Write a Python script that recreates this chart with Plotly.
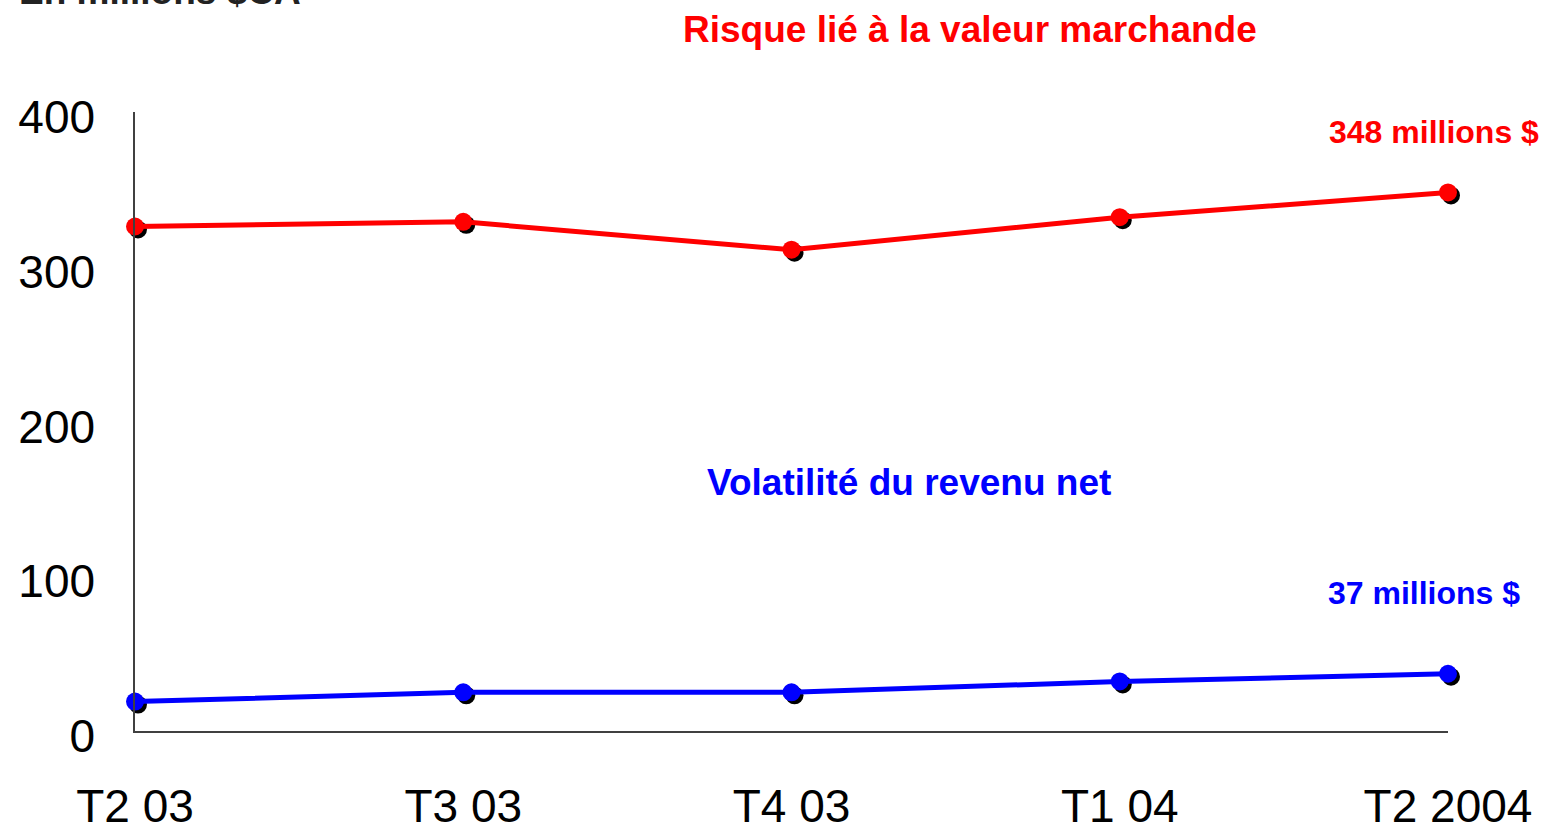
import plotly.graph_objects as go

categories = ["T2 03", "T3 03", "T4 03", "T1 04", "T2 2004"]
risque_valeur = [326, 329, 311, 332, 348]
volatilite_revenu = [19, 25, 25, 32, 37]
y_ticks = [0, 100, 200, 300, 400]

FONT = "Liberation Sans, Arial, sans-serif"
RED = "#ff0000"
BLUE = "#0000ff"

W, H = 1542, 830
SH = 3  # shadow offset in px
L, R, T, B = 135, 94 - SH, 112, 99 - SH
PW, PH = W - L - R, H - T - B
ddx = SH / PW
ddy = SH / PH

xi = list(range(len(categories)))
xr = [0, len(categories) - 1]
yr = [0, 400]

fig = go.Figure()
# shadows (separate subplot shifted right/down by SH px)
for vals in (risque_valeur, volatilite_revenu):
    fig.add_trace(go.Scatter(x=xi, y=vals, mode="markers", xaxis="x", yaxis="y",
                             marker=dict(size=18, color="black"), cliponaxis=False,
                             hoverinfo="skip", showlegend=False))
# real series
fig.add_trace(go.Scatter(x=xi, y=risque_valeur, mode="lines+markers", xaxis="x2", yaxis="y2",
                         line=dict(color=RED, width=5), marker=dict(size=18, color=RED),
                         cliponaxis=False, showlegend=False, name="Risque lié à la valeur marchande"))
fig.add_trace(go.Scatter(x=xi, y=volatilite_revenu, mode="lines+markers", xaxis="x2", yaxis="y2",
                         line=dict(color=BLUE, width=5), marker=dict(size=18, color=BLUE),
                         cliponaxis=False, showlegend=False, name="Volatilité du revenu net"))

def px(xp):
    return (xp - L) / PW

def py(yp):
    return (H - B - yp) / PH

ann = [
    dict(text="<b>En millions $CA</b>", x=px(17), y=py(-8), xanchor="left", yanchor="middle",
         font=dict(size=37, color="#222222")),
    dict(text="<b>Risque lié à la valeur marchande</b>", x=px(970), y=py(30), xanchor="center",
         yanchor="middle", font=dict(size=37, color=RED)),
    dict(text="<b>Volatilité du revenu net</b>", x=px(909), y=py(482), xanchor="center",
         yanchor="middle", font=dict(size=37, color=BLUE)),
    dict(text="<b>348 millions $</b>", x=px(1434), y=py(132), xanchor="center",
         yanchor="middle", font=dict(size=32, color=RED)),
    dict(text="<b>37 millions $</b>", x=px(1424), y=py(593), xanchor="center",
         yanchor="middle", font=dict(size=32, color=BLUE)),
]
for a in ann:
    a.update(xref="paper", yref="paper", showarrow=False)
    a["font"]["family"] = FONT

fig.update_layout(
    width=W, height=H,
    margin=dict(l=L, r=R, t=T, b=B, pad=0, autoexpand=False),
    paper_bgcolor="white", plot_bgcolor="rgba(0,0,0,0)",
    font=dict(family=FONT, color="black"),
    annotations=ann,
    xaxis=dict(range=xr, domain=[ddx, 1], anchor="y", visible=False, fixedrange=True,
               automargin=False),
    yaxis=dict(range=yr, domain=[0, 1 - ddy], anchor="x", visible=False, fixedrange=True,
               automargin=False),
    xaxis2=dict(range=xr, domain=[0, 1 - ddx], anchor="y2", tickmode="array", tickvals=xi,
                ticktext=categories, showline=True, linecolor="#404040", linewidth=1.5,
                showgrid=False, zeroline=False, ticks="", ticklabelstandoff=34,
                automargin=False, fixedrange=True,
                tickfont=dict(size=46, family=FONT, color="black")),
    yaxis2=dict(range=yr, domain=[ddy, 1], anchor="x2", tickmode="array", tickvals=y_ticks,
                showline=True, linecolor="#404040", linewidth=1.5, showgrid=False,
                zeroline=False, ticks="", ticklabelstandoff=29, ticklabelshift=5,
                automargin=False, fixedrange=True,
                tickfont=dict(size=46, family=FONT, color="black")),
)

fig.write_html(
    "out.html",
    config={"displayModeBar": False},
    post_script="document.body.style.margin='0px';document.body.style.overflow='hidden';",
)
